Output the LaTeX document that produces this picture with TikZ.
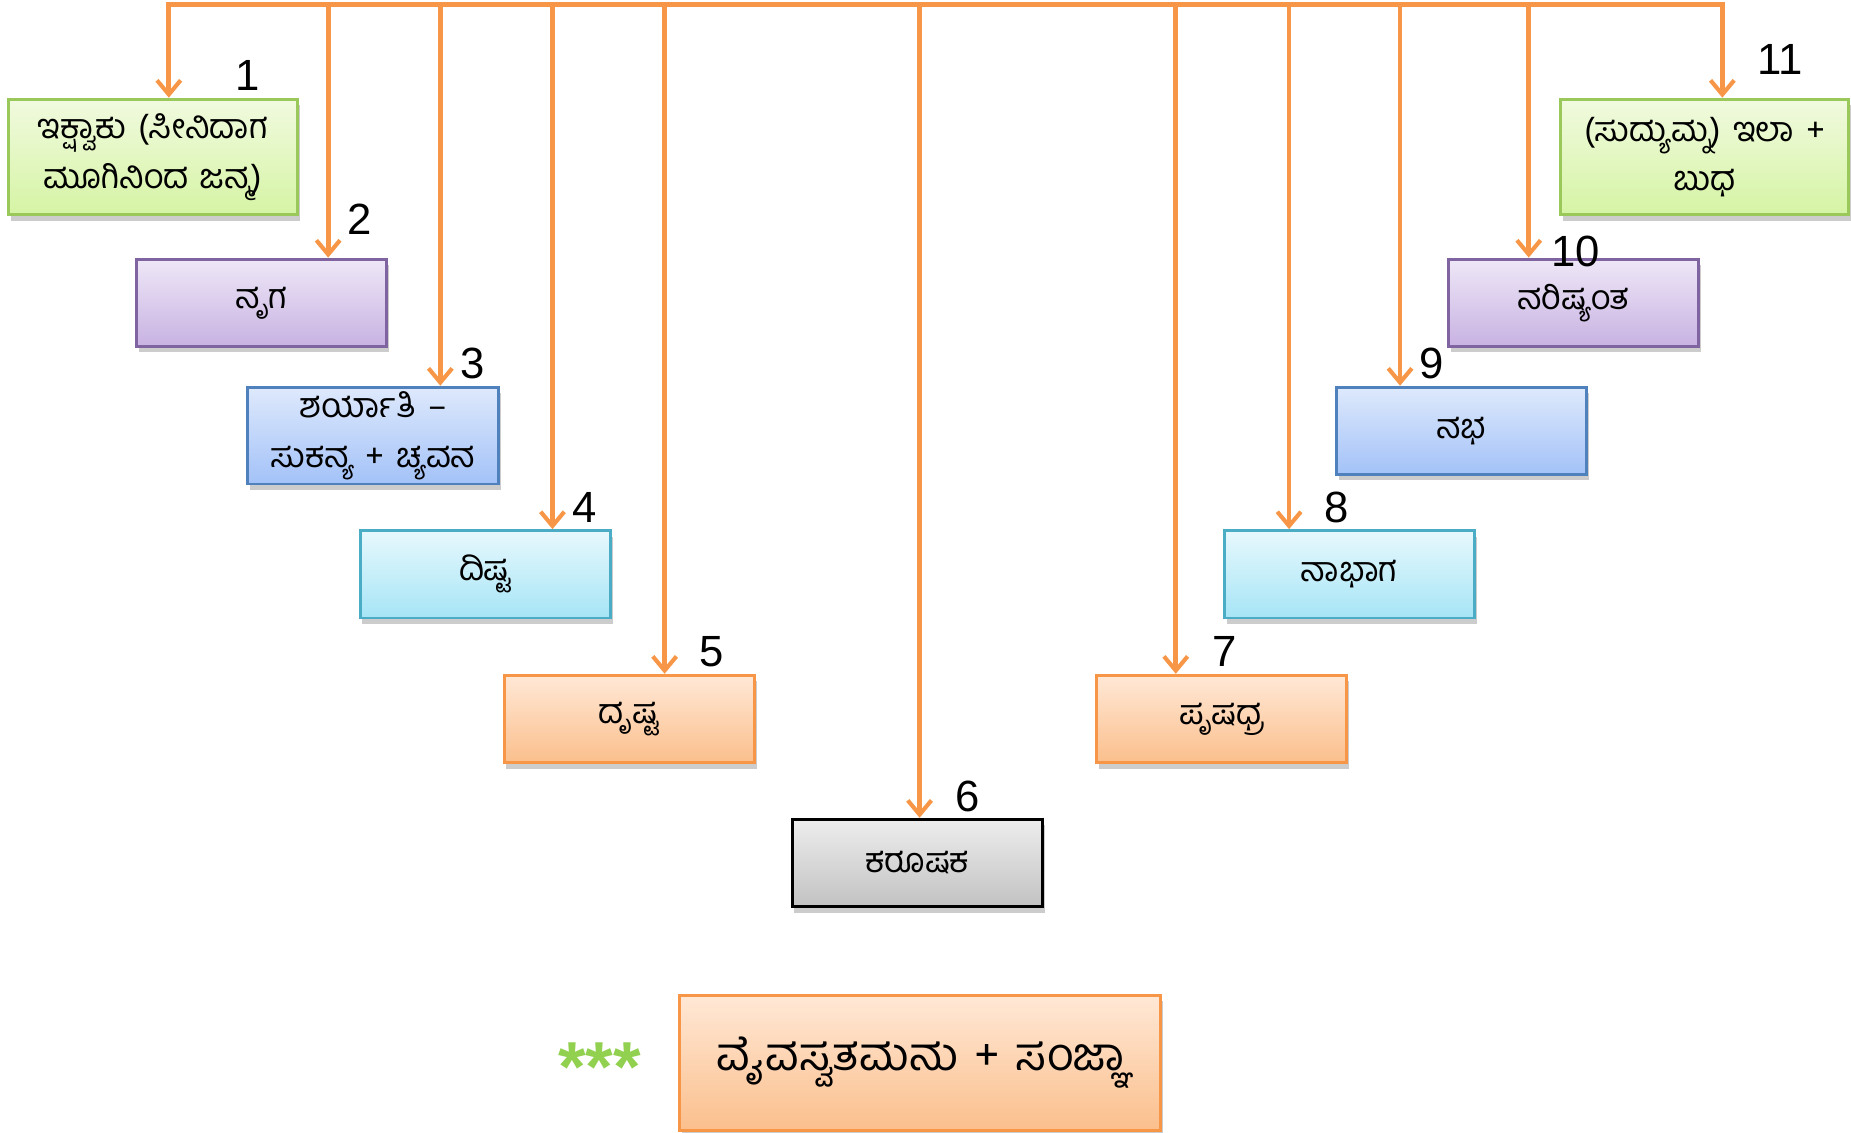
\documentclass[tikz,border=0pt]{standalone}
\usepackage{fontspec}
\setmainfont{Liberation Sans}
\newfontfamily\kn[Script=Kannada,WordSpace=1.4]{Hind Mysuru}
\usetikzlibrary{arrows.meta,shadows}
\definecolor{arrc}{HTML}{F79646}
\definecolor{gT}{HTML}{F1FADF}\definecolor{gB}{HTML}{D5F4A4}\definecolor{gD}{HTML}{9BC85A}
\definecolor{pT}{HTML}{EEE7F7}\definecolor{pB}{HTML}{C8B2E2}\definecolor{pD}{HTML}{8064A2}
\definecolor{bT}{HTML}{DEE9FC}\definecolor{bB}{HTML}{A3C2F8}\definecolor{bD}{HTML}{4F81BD}
\definecolor{cT}{HTML}{E7F8FD}\definecolor{cB}{HTML}{A6E5F6}\definecolor{cD}{HTML}{4BACC6}
\definecolor{oT}{HTML}{FFE8D6}\definecolor{oB}{HTML}{FBBF8C}\definecolor{oD}{HTML}{F79646}
\definecolor{kT}{HTML}{EDEDED}\definecolor{kB}{HTML}{C2C2C2}
\definecolor{starc}{HTML}{92D050}
\tikzset{
  box/.style={draw, line width=2.5pt, minimum width=212pt, minimum height=74pt, align=center,
    font=\kn\fontsize{29}{42}\selectfont, inner sep=2pt,
    drop shadow={shadow xshift=2pt, shadow yshift=-5pt, opacity=0.2, fill=black}},
  gbox/.style={box, draw=gD, top color=gT, bottom color=gB},
  pbox/.style={box, draw=pD, top color=pT, bottom color=pB},
  bbox/.style={box, draw=bD, top color=bT, bottom color=bB},
  cbox/.style={box, draw=cD, top color=cT, bottom color=cB},
  obox/.style={box, draw=oD, top color=oT, bottom color=oB},
  kbox/.style={box, draw=black, top color=kT, bottom color=kB},
  num/.style={font=\fontsize{37}{37}\selectfont, inner sep=0pt},
  arr/.style={draw=arrc, line width=4pt, -{Straight Barb[length=12pt,width=20pt,line width=3.5pt]}},
  bar/.style={draw=arrc, line width=4pt, line cap=rect}
}
\begin{document}
\begin{tikzpicture}[x=1pt,y=-1pt]
\useasboundingbox (0,0) rectangle (1568,959);
% boxes
\node[gbox, minimum width=245pt, minimum height=98pt] (b1) at (129.5,133) {ಇಕ್ಷ್ವಾಕು (ಸೀನಿದಾಗ\\ಮೂಗಿನಿಂದ ಜನ್ಮ)};
\node[pbox] (b2) at (221.5,256.5) {ನೃಗ};
\node[bbox, minimum height=82pt] (b3) at (316,369) {ಶರ್ಯಾತಿ –\\ಸುಕನ್ಯ + ಚ್ಯವನ};
\node[cbox] (b4) at (411,486.5) {ದಿಷ್ಟ};
\node[obox] (b5) at (533,609) {ದೃಷ್ಟ};
\node[kbox] (b6) at (777,731) {ಕರೂಷಕ};
\node[obox] (b7) at (1035,609) {ಪೃಷಧ್ರ};
\node[cbox] (b8) at (1143,486.5) {ನಾಭಾಗ};
\node[bbox] (b9) at (1238,365) {ನಭ};
\node[pbox] (b10) at (1333,256.5) {ನರಿಷ್ಯಂತ};
\node[gbox, minimum width=244pt, minimum height=98pt] (b11) at (1444,133) {(ಸುದ್ಯುಮ್ನ) ಇಲಾ +\\ಬುಧ};
\node[obox, minimum width=407pt, minimum height=115pt, font=\kn\fontsize{39}{42}\selectfont] (b0) at (779.5,900.5) {ವೈವಸ್ವತಮನು + ಸಂಜ್ಞಾ};
\node[font=\bfseries\fontsize{60}{60}\selectfont, text=starc, inner sep=0pt] (stars) at (508,904) {***};
% top bar
\coordinate (t1) at (143,4);
\coordinate (t2) at (278,4);
\coordinate (t3) at (373,4);
\coordinate (t4) at (468,4);
\coordinate (t5) at (563,4);
\coordinate (t6) at (779,4);
\coordinate (t7) at (996,4);
\coordinate (t8) at (1092,4);
\coordinate (t9) at (1186,4);
\coordinate (t10) at (1295,4);
\coordinate (t11) at (1459,4);
\draw[bar] (t1) -- (t11);
\foreach \i in {1,...,11}{
  \draw[arr] (t\i) -- (t\i |- b\i.north);
}
% numbers
\node[num] (n1) at (210,64) {1};
\node[num] (n2) at (305,186) {2};
\node[num] (n3) at (400,308) {3};
\node[num] (n4) at (495,430) {4};
\node[num] (n5) at (603,552) {5};
\node[num] (n6) at (820,675) {6};
\node[num] (n7) at (1037,552) {7};
\node[num] (n8) at (1132,430) {8};
\node[num] (n9) at (1213,308) {9};
\node[num] (n10) at (1335,213) {10};
\node[num] (n11) at (1508,50) {11};
\end{tikzpicture}
\end{document}
